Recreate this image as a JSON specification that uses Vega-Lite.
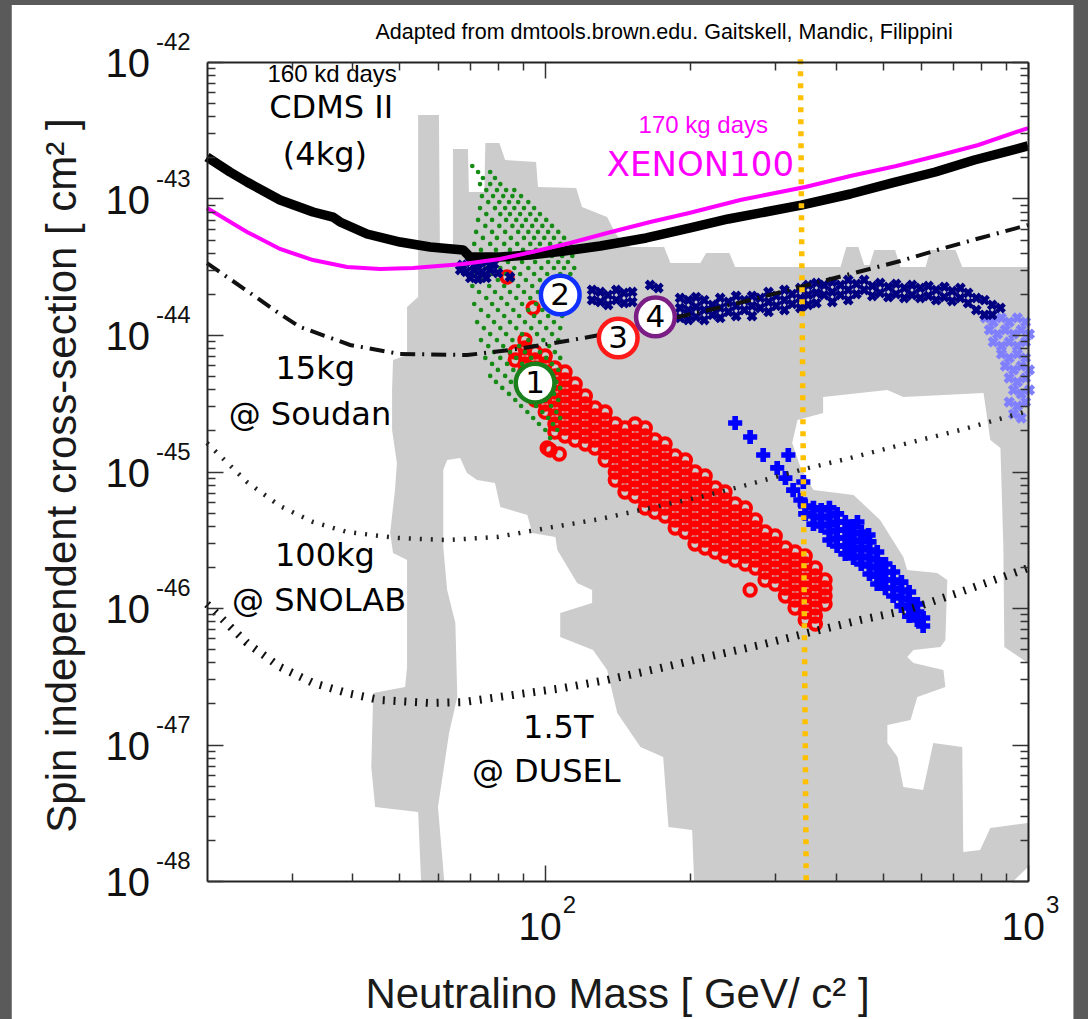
{
"$schema":"https://vega.github.io/schema/vega-lite/v6.json",
"width":821,"height":819,
"autosize":{"type":"none"},
"padding":{"left":207,"top":62,"right":60,"bottom":138},
"background":"#5a5a5a",
"config":{"view":{"stroke":null},"axis":{"grid":false,"domain":false,"labels":false,"ticks":true,"tickColor":"#333333","tickWidth":1.5,"zindex":1,"domainColor":"#222222","domainWidth":2}},
"datasets":{
"frame":[{"x":0.897,"x2":3.094,"y":-41.582,"y2":-49.5}],
"gray":[{"i":1,"x":1.738,"y":-42.388},{"i":2,"x":1.781,"y":-42.388},{"i":3,"x":1.783,"y":-43.341},{"i":4,"x":1.810,"y":-43.341},{"i":5,"x":1.810,"y":-42.637},{"i":6,"x":1.841,"y":-42.637},{"i":7,"x":1.843,"y":-42.952},{"i":8,"x":1.875,"y":-42.952},{"i":9,"x":1.877,"y":-42.593},{"i":10,"x":1.906,"y":-42.593},{"i":11,"x":1.918,"y":-42.718},{"i":12,"x":1.982,"y":-42.733},{"i":13,"x":1.986,"y":-42.916},{"i":14,"x":2.065,"y":-42.923},{"i":15,"x":2.077,"y":-43.062},{"i":16,"x":2.129,"y":-43.136},{"i":17,"x":2.146,"y":-43.253},{"i":18,"x":2.166,"y":-43.341},{"i":19,"x":2.179,"y":-43.355},{"i":20,"x":2.247,"y":-43.355},{"i":21,"x":2.260,"y":-43.473},{"i":22,"x":2.322,"y":-43.473},{"i":23,"x":2.334,"y":-43.399},{"i":24,"x":2.382,"y":-43.399},{"i":25,"x":2.394,"y":-43.502},{"i":26,"x":2.612,"y":-43.502},{"i":27,"x":2.624,"y":-43.355},{"i":28,"x":2.649,"y":-43.355},{"i":29,"x":2.661,"y":-43.487},{"i":30,"x":2.672,"y":-43.487},{"i":31,"x":2.682,"y":-43.377},{"i":32,"x":2.725,"y":-43.377},{"i":33,"x":2.736,"y":-43.502},{"i":34,"x":2.788,"y":-43.502},{"i":35,"x":2.798,"y":-43.377},{"i":36,"x":2.850,"y":-43.377},{"i":37,"x":2.864,"y":-43.502},{"i":38,"x":3.0,"y":-43.502},{"i":39,"x":3.0,"y":-46.403},{"i":40,"x":2.951,"y":-46.286},{"i":41,"x":2.949,"y":-45.553},{"i":42,"x":2.943,"y":-44.828},{"i":43,"x":2.922,"y":-44.769},{"i":44,"x":2.908,"y":-44.425},{"i":45,"x":2.742,"y":-44.454},{"i":46,"x":2.709,"y":-44.403},{"i":47,"x":2.576,"y":-44.454},{"i":48,"x":2.576,"y":-44.571},{"i":49,"x":2.523,"y":-44.623},{"i":50,"x":2.512,"y":-44.791},{"i":51,"x":2.529,"y":-44.967},{"i":52,"x":2.556,"y":-45.136},{"i":53,"x":2.639,"y":-45.172},{"i":54,"x":2.694,"y":-45.355},{"i":55,"x":2.742,"y":-45.626},{"i":56,"x":2.750,"y":-45.722},{"i":57,"x":2.812,"y":-45.744},{"i":58,"x":2.833,"y":-45.795},{"i":59,"x":2.829,"y":-46.234},{"i":60,"x":2.819,"y":-46.286},{"i":61,"x":2.763,"y":-46.308},{"i":62,"x":2.750,"y":-46.359},{"i":63,"x":2.763,"y":-46.403},{"i":64,"x":2.825,"y":-46.454},{"i":65,"x":2.829,"y":-46.579},{"i":66,"x":2.771,"y":-46.652},{"i":67,"x":2.757,"y":-46.821},{"i":68,"x":2.709,"y":-46.857},{"i":69,"x":2.709,"y":-46.989},{"i":70,"x":2.730,"y":-47.092},{"i":71,"x":2.742,"y":-47.311},{"i":72,"x":2.783,"y":-47.333},{"i":73,"x":2.804,"y":-46.989},{"i":74,"x":2.864,"y":-47.018},{"i":75,"x":2.866,"y":-47.788},{"i":76,"x":2.901,"y":-47.773},{"i":77,"x":2.922,"y":-47.612},{"i":78,"x":3.0,"y":-47.575},{"i":79,"x":3.0,"y":-47.897},{"i":80,"x":2.970,"y":-48.0},{"i":81,"x":2.309,"y":-48.0},{"i":82,"x":2.305,"y":-47.626},{"i":83,"x":2.256,"y":-47.604},{"i":84,"x":2.245,"y":-47.092},{"i":85,"x":2.198,"y":-47.018},{"i":86,"x":2.150,"y":-46.769},{"i":87,"x":2.129,"y":-46.454},{"i":88,"x":2.100,"y":-46.308},{"i":89,"x":2.032,"y":-46.212},{"i":90,"x":2.032,"y":-46.037},{"i":91,"x":2.098,"y":-45.963},{"i":92,"x":2.098,"y":-45.868},{"i":93,"x":2.067,"y":-45.817},{"i":94,"x":2.026,"y":-45.575},{"i":95,"x":2.022,"y":-45.480},{"i":96,"x":1.974,"y":-45.451},{"i":97,"x":1.964,"y":-45.319},{"i":98,"x":1.908,"y":-45.260},{"i":99,"x":1.897,"y":-45.084},{"i":100,"x":1.860,"y":-45.062},{"i":101,"x":1.839,"y":-45.011},{"i":102,"x":1.825,"y":-44.901},{"i":103,"x":1.798,"y":-44.916},{"i":104,"x":1.790,"y":-44.989},{"i":105,"x":1.790,"y":-45.553},{"i":106,"x":1.798,"y":-45.868},{"i":107,"x":1.815,"y":-46.110},{"i":108,"x":1.819,"y":-46.652},{"i":109,"x":1.802,"y":-46.916},{"i":110,"x":1.779,"y":-47.458},{"i":111,"x":1.792,"y":-48.0},{"i":112,"x":1.744,"y":-48.0},{"i":113,"x":1.738,"y":-47.495},{"i":114,"x":1.649,"y":-47.458},{"i":115,"x":1.641,"y":-47.165},{"i":116,"x":1.645,"y":-46.623},{"i":117,"x":1.711,"y":-46.579},{"i":118,"x":1.715,"y":-46.432},{"i":119,"x":1.715,"y":-45.648},{"i":120,"x":1.686,"y":-45.597},{"i":121,"x":1.680,"y":-45.451},{"i":122,"x":1.690,"y":-45.136},{"i":123,"x":1.694,"y":-44.938},{"i":124,"x":1.684,"y":-44.696},{"i":125,"x":1.684,"y":-44.403},{"i":126,"x":1.686,"y":-44.183},{"i":127,"x":1.715,"y":-44.147},{"i":128,"x":1.715,"y":-43.795},{"i":129,"x":1.738,"y":-43.722}],
"green":[{"x":1.850,"y":-42.762},{"x":1.862,"y":-42.806},{"x":1.887,"y":-42.806},{"x":1.872,"y":-42.850},{"x":1.897,"y":-42.850},{"x":1.866,"y":-42.894},{"x":1.887,"y":-42.894},{"x":1.908,"y":-42.894},{"x":1.879,"y":-42.938},{"x":1.901,"y":-42.938},{"x":1.920,"y":-42.938},{"x":1.937,"y":-42.938},{"x":1.870,"y":-42.982},{"x":1.893,"y":-42.982},{"x":1.914,"y":-42.982},{"x":1.933,"y":-42.982},{"x":1.951,"y":-42.982},{"x":1.883,"y":-43.026},{"x":1.906,"y":-43.026},{"x":1.926,"y":-43.026},{"x":1.945,"y":-43.026},{"x":1.966,"y":-43.026},{"x":1.866,"y":-43.070},{"x":1.897,"y":-43.070},{"x":1.918,"y":-43.070},{"x":1.937,"y":-43.070},{"x":1.957,"y":-43.070},{"x":1.978,"y":-43.070},{"x":1.879,"y":-43.114},{"x":1.908,"y":-43.114},{"x":1.928,"y":-43.114},{"x":1.949,"y":-43.114},{"x":1.970,"y":-43.114},{"x":1.990,"y":-43.114},{"x":1.862,"y":-43.157},{"x":1.891,"y":-43.157},{"x":1.920,"y":-43.157},{"x":1.941,"y":-43.157},{"x":1.961,"y":-43.157},{"x":1.982,"y":-43.157},{"x":2.003,"y":-43.157},{"x":1.877,"y":-43.201},{"x":1.906,"y":-43.201},{"x":1.933,"y":-43.201},{"x":1.953,"y":-43.201},{"x":1.974,"y":-43.201},{"x":1.995,"y":-43.201},{"x":2.015,"y":-43.201},{"x":1.858,"y":-43.245},{"x":1.891,"y":-43.245},{"x":1.918,"y":-43.245},{"x":1.945,"y":-43.245},{"x":1.966,"y":-43.245},{"x":1.986,"y":-43.245},{"x":2.007,"y":-43.245},{"x":2.028,"y":-43.245},{"x":1.872,"y":-43.289},{"x":1.901,"y":-43.289},{"x":1.930,"y":-43.289},{"x":1.957,"y":-43.289},{"x":1.978,"y":-43.289},{"x":1.999,"y":-43.289},{"x":2.019,"y":-43.289},{"x":2.040,"y":-43.289},{"x":1.854,"y":-43.333},{"x":1.887,"y":-43.333},{"x":1.916,"y":-43.333},{"x":1.943,"y":-43.333},{"x":1.970,"y":-43.333},{"x":1.990,"y":-43.333},{"x":2.011,"y":-43.333},{"x":2.032,"y":-43.333},{"x":2.053,"y":-43.333},{"x":1.868,"y":-43.377},{"x":1.899,"y":-43.377},{"x":1.928,"y":-43.377},{"x":1.955,"y":-43.377},{"x":1.982,"y":-43.377},{"x":2.003,"y":-43.377},{"x":2.024,"y":-43.377},{"x":2.044,"y":-43.377},{"x":1.850,"y":-43.421},{"x":1.883,"y":-43.421},{"x":1.912,"y":-43.421},{"x":1.941,"y":-43.421},{"x":1.968,"y":-43.421},{"x":1.995,"y":-43.421},{"x":2.015,"y":-43.421},{"x":2.036,"y":-43.421},{"x":2.057,"y":-43.421},{"x":1.864,"y":-43.465},{"x":1.895,"y":-43.465},{"x":1.924,"y":-43.465},{"x":1.953,"y":-43.465},{"x":1.980,"y":-43.465},{"x":2.007,"y":-43.465},{"x":2.028,"y":-43.465},{"x":2.048,"y":-43.465},{"x":1.879,"y":-43.509},{"x":1.908,"y":-43.509},{"x":1.937,"y":-43.509},{"x":1.966,"y":-43.509},{"x":1.993,"y":-43.509},{"x":2.019,"y":-43.509},{"x":2.040,"y":-43.509},{"x":2.061,"y":-43.509},{"x":1.856,"y":-43.553},{"x":1.891,"y":-43.553},{"x":1.920,"y":-43.553},{"x":1.949,"y":-43.553},{"x":1.978,"y":-43.553},{"x":2.005,"y":-43.553},{"x":2.032,"y":-43.553},{"x":2.053,"y":-43.553},{"x":1.870,"y":-43.597},{"x":1.903,"y":-43.597},{"x":1.933,"y":-43.597},{"x":1.961,"y":-43.597},{"x":1.990,"y":-43.597},{"x":2.017,"y":-43.597},{"x":2.044,"y":-43.597},{"x":1.850,"y":-43.641},{"x":1.885,"y":-43.641},{"x":1.916,"y":-43.641},{"x":1.945,"y":-43.641},{"x":1.974,"y":-43.641},{"x":2.003,"y":-43.641},{"x":2.030,"y":-43.641},{"x":2.057,"y":-43.641},{"x":1.864,"y":-43.685},{"x":1.897,"y":-43.685},{"x":1.928,"y":-43.685},{"x":1.957,"y":-43.685},{"x":1.986,"y":-43.685},{"x":2.015,"y":-43.685},{"x":2.042,"y":-43.685},{"x":1.879,"y":-43.729},{"x":1.910,"y":-43.729},{"x":1.941,"y":-43.729},{"x":1.970,"y":-43.729},{"x":1.999,"y":-43.729},{"x":2.028,"y":-43.729},{"x":1.854,"y":-43.773},{"x":1.891,"y":-43.773},{"x":1.922,"y":-43.773},{"x":1.953,"y":-43.773},{"x":1.982,"y":-43.773},{"x":2.011,"y":-43.773},{"x":2.038,"y":-43.773},{"x":1.868,"y":-43.817},{"x":1.903,"y":-43.817},{"x":1.935,"y":-43.817},{"x":1.966,"y":-43.817},{"x":1.995,"y":-43.817},{"x":2.024,"y":-43.817},{"x":1.883,"y":-43.861},{"x":1.916,"y":-43.861},{"x":1.947,"y":-43.861},{"x":1.978,"y":-43.861},{"x":2.007,"y":-43.861},{"x":2.036,"y":-43.861},{"x":1.860,"y":-43.905},{"x":1.895,"y":-43.905},{"x":1.928,"y":-43.905},{"x":1.959,"y":-43.905},{"x":1.990,"y":-43.905},{"x":2.019,"y":-43.905},{"x":1.874,"y":-43.949},{"x":1.908,"y":-43.949},{"x":1.941,"y":-43.949},{"x":1.972,"y":-43.949},{"x":2.003,"y":-43.949},{"x":2.032,"y":-43.949},{"x":1.887,"y":-43.993},{"x":1.920,"y":-43.993},{"x":1.953,"y":-43.993},{"x":1.984,"y":-43.993},{"x":2.015,"y":-43.993},{"x":1.868,"y":-44.037},{"x":1.901,"y":-44.037},{"x":1.933,"y":-44.037},{"x":1.966,"y":-44.037},{"x":1.997,"y":-44.037},{"x":2.028,"y":-44.037},{"x":1.883,"y":-44.081},{"x":1.914,"y":-44.081},{"x":1.947,"y":-44.081},{"x":1.978,"y":-44.081},{"x":2.009,"y":-44.081},{"x":1.895,"y":-44.125},{"x":1.928,"y":-44.125},{"x":1.959,"y":-44.125},{"x":1.990,"y":-44.125},{"x":2.021,"y":-44.125},{"x":1.877,"y":-44.168},{"x":1.908,"y":-44.168},{"x":1.941,"y":-44.168},{"x":1.972,"y":-44.168},{"x":2.003,"y":-44.168},{"x":2.032,"y":-44.168},{"x":1.891,"y":-44.212},{"x":1.922,"y":-44.212},{"x":1.953,"y":-44.212},{"x":1.984,"y":-44.212},{"x":2.015,"y":-44.212},{"x":1.903,"y":-44.256},{"x":1.935,"y":-44.256},{"x":1.966,"y":-44.256},{"x":1.997,"y":-44.256},{"x":2.028,"y":-44.256},{"x":1.887,"y":-44.300},{"x":1.918,"y":-44.300},{"x":1.949,"y":-44.300},{"x":1.980,"y":-44.300},{"x":2.011,"y":-44.300},{"x":1.899,"y":-44.344},{"x":1.930,"y":-44.344},{"x":1.961,"y":-44.344},{"x":1.993,"y":-44.344},{"x":2.024,"y":-44.344},{"x":1.912,"y":-44.388},{"x":1.943,"y":-44.388},{"x":1.974,"y":-44.388},{"x":2.005,"y":-44.388},{"x":2.032,"y":-44.388},{"x":1.926,"y":-44.432},{"x":1.957,"y":-44.432},{"x":1.988,"y":-44.432},{"x":2.019,"y":-44.432},{"x":1.939,"y":-44.476},{"x":1.970,"y":-44.476},{"x":2.001,"y":-44.476},{"x":2.028,"y":-44.476},{"x":1.951,"y":-44.520},{"x":1.982,"y":-44.520},{"x":2.013,"y":-44.520},{"x":1.964,"y":-44.564},{"x":1.995,"y":-44.564},{"x":2.024,"y":-44.564},{"x":1.976,"y":-44.608},{"x":2.007,"y":-44.608},{"x":2.032,"y":-44.608},{"x":1.988,"y":-44.652},{"x":2.017,"y":-44.652},{"x":2.001,"y":-44.696},{"x":2.026,"y":-44.696},{"x":2.011,"y":-44.755}],
"red":[{"x":1.922,"y":-43.575},{"x":1.976,"y":-43.802},{"x":2.011,"y":-44.843},{"x":2.005,"y":-44.828},{"x":2.030,"y":-44.872},{"x":2.425,"y":-45.868},
{"x":1.939,"y":-44.125},{"x":1.939,"y":-44.183},
{"x":1.959,"y":-44.037},{"x":1.959,"y":-44.095},{"x":1.959,"y":-44.154},{"x":1.959,"y":-44.213},{"x":1.959,"y":-44.271},{"x":1.959,"y":-44.330},{"x":1.959,"y":-44.388},
{"x":1.980,"y":-44.125},{"x":1.980,"y":-44.183},{"x":1.980,"y":-44.242},{"x":1.980,"y":-44.300},{"x":1.980,"y":-44.359},{"x":1.980,"y":-44.418},{"x":1.980,"y":-44.476},
{"x":2.001,"y":-44.154},{"x":2.001,"y":-44.213},{"x":2.001,"y":-44.271},{"x":2.001,"y":-44.330},{"x":2.001,"y":-44.388},{"x":2.001,"y":-44.447},{"x":2.001,"y":-44.506},{"x":2.001,"y":-44.564},
{"x":2.021,"y":-44.242},{"x":2.021,"y":-44.300},{"x":2.021,"y":-44.359},{"x":2.021,"y":-44.418},{"x":2.021,"y":-44.476},{"x":2.021,"y":-44.535},{"x":2.021,"y":-44.593},{"x":2.021,"y":-44.652},{"x":2.021,"y":-44.711},
{"x":2.042,"y":-44.271},{"x":2.042,"y":-44.330},{"x":2.042,"y":-44.388},{"x":2.042,"y":-44.447},{"x":2.042,"y":-44.506},{"x":2.042,"y":-44.564},{"x":2.042,"y":-44.623},{"x":2.042,"y":-44.681},{"x":2.042,"y":-44.740},
{"x":2.063,"y":-44.359},{"x":2.063,"y":-44.418},{"x":2.063,"y":-44.476},{"x":2.063,"y":-44.535},{"x":2.063,"y":-44.593},{"x":2.063,"y":-44.652},{"x":2.063,"y":-44.711},{"x":2.063,"y":-44.769},
{"x":2.084,"y":-44.447},{"x":2.084,"y":-44.506},{"x":2.084,"y":-44.564},{"x":2.084,"y":-44.623},{"x":2.084,"y":-44.681},{"x":2.084,"y":-44.740},{"x":2.084,"y":-44.799},
{"x":2.104,"y":-44.535},{"x":2.104,"y":-44.593},{"x":2.104,"y":-44.652},{"x":2.104,"y":-44.711},{"x":2.104,"y":-44.769},{"x":2.104,"y":-44.828},
{"x":2.125,"y":-44.564},{"x":2.125,"y":-44.623},{"x":2.125,"y":-44.681},{"x":2.125,"y":-44.740},{"x":2.125,"y":-44.799},{"x":2.125,"y":-44.857},{"x":2.125,"y":-44.916},
{"x":2.146,"y":-44.652},{"x":2.146,"y":-44.711},{"x":2.146,"y":-44.769},{"x":2.146,"y":-44.828},{"x":2.146,"y":-44.887},{"x":2.146,"y":-44.945},{"x":2.146,"y":-45.004},{"x":2.146,"y":-45.062},
{"x":2.166,"y":-44.681},{"x":2.166,"y":-44.740},{"x":2.166,"y":-44.799},{"x":2.166,"y":-44.857},{"x":2.166,"y":-44.916},{"x":2.166,"y":-44.974},{"x":2.166,"y":-45.033},{"x":2.166,"y":-45.092},{"x":2.166,"y":-45.150},
{"x":2.187,"y":-44.652},{"x":2.187,"y":-44.711},{"x":2.187,"y":-44.769},{"x":2.187,"y":-44.828},{"x":2.187,"y":-44.887},{"x":2.187,"y":-44.945},{"x":2.187,"y":-45.004},{"x":2.187,"y":-45.062},{"x":2.187,"y":-45.121},{"x":2.187,"y":-45.180},
{"x":2.208,"y":-44.681},{"x":2.208,"y":-44.740},{"x":2.208,"y":-44.799},{"x":2.208,"y":-44.857},{"x":2.208,"y":-44.916},{"x":2.208,"y":-44.974},{"x":2.208,"y":-45.033},{"x":2.208,"y":-45.092},{"x":2.208,"y":-45.150},{"x":2.208,"y":-45.209},{"x":2.208,"y":-45.267},
{"x":2.228,"y":-44.769},{"x":2.228,"y":-44.828},{"x":2.228,"y":-44.887},{"x":2.228,"y":-44.945},{"x":2.228,"y":-45.004},{"x":2.228,"y":-45.062},{"x":2.228,"y":-45.121},{"x":2.228,"y":-45.180},{"x":2.228,"y":-45.238},{"x":2.228,"y":-45.297},
{"x":2.249,"y":-44.799},{"x":2.249,"y":-44.857},{"x":2.249,"y":-44.916},{"x":2.249,"y":-44.974},{"x":2.249,"y":-45.033},{"x":2.249,"y":-45.092},{"x":2.249,"y":-45.150},{"x":2.249,"y":-45.209},{"x":2.249,"y":-45.267},{"x":2.249,"y":-45.326},
{"x":2.270,"y":-44.887},{"x":2.270,"y":-44.945},{"x":2.270,"y":-45.004},{"x":2.270,"y":-45.062},{"x":2.270,"y":-45.121},{"x":2.270,"y":-45.180},{"x":2.270,"y":-45.238},{"x":2.270,"y":-45.297},{"x":2.270,"y":-45.355},{"x":2.270,"y":-45.414},
{"x":2.291,"y":-44.916},{"x":2.291,"y":-44.974},{"x":2.291,"y":-45.033},{"x":2.291,"y":-45.092},{"x":2.291,"y":-45.150},{"x":2.291,"y":-45.209},{"x":2.291,"y":-45.267},{"x":2.291,"y":-45.326},{"x":2.291,"y":-45.385},{"x":2.291,"y":-45.443},
{"x":2.311,"y":-45.004},{"x":2.311,"y":-45.062},{"x":2.311,"y":-45.121},{"x":2.311,"y":-45.180},{"x":2.311,"y":-45.238},{"x":2.311,"y":-45.297},{"x":2.311,"y":-45.355},{"x":2.311,"y":-45.414},{"x":2.311,"y":-45.473},{"x":2.311,"y":-45.531},
{"x":2.332,"y":-45.033},{"x":2.332,"y":-45.092},{"x":2.332,"y":-45.150},{"x":2.332,"y":-45.209},{"x":2.332,"y":-45.267},{"x":2.332,"y":-45.326},{"x":2.332,"y":-45.385},{"x":2.332,"y":-45.443},{"x":2.332,"y":-45.502},{"x":2.332,"y":-45.560},
{"x":2.353,"y":-45.121},{"x":2.353,"y":-45.180},{"x":2.353,"y":-45.238},{"x":2.353,"y":-45.297},{"x":2.353,"y":-45.355},{"x":2.353,"y":-45.414},{"x":2.353,"y":-45.473},{"x":2.353,"y":-45.531},{"x":2.353,"y":-45.590},
{"x":2.373,"y":-45.150},{"x":2.373,"y":-45.209},{"x":2.373,"y":-45.267},{"x":2.373,"y":-45.326},{"x":2.373,"y":-45.385},{"x":2.373,"y":-45.443},{"x":2.373,"y":-45.502},{"x":2.373,"y":-45.560},{"x":2.373,"y":-45.619},
{"x":2.394,"y":-45.238},{"x":2.394,"y":-45.297},{"x":2.394,"y":-45.355},{"x":2.394,"y":-45.414},{"x":2.394,"y":-45.473},{"x":2.394,"y":-45.531},{"x":2.394,"y":-45.590},{"x":2.394,"y":-45.648},
{"x":2.415,"y":-45.267},{"x":2.415,"y":-45.326},{"x":2.415,"y":-45.385},{"x":2.415,"y":-45.443},{"x":2.415,"y":-45.502},{"x":2.415,"y":-45.560},{"x":2.415,"y":-45.619},{"x":2.415,"y":-45.678},
{"x":2.436,"y":-45.355},{"x":2.436,"y":-45.414},{"x":2.436,"y":-45.473},{"x":2.436,"y":-45.531},{"x":2.436,"y":-45.590},{"x":2.436,"y":-45.648},{"x":2.436,"y":-45.707},
{"x":2.456,"y":-45.443},{"x":2.456,"y":-45.502},{"x":2.456,"y":-45.560},{"x":2.456,"y":-45.619},{"x":2.456,"y":-45.678},{"x":2.456,"y":-45.736},{"x":2.456,"y":-45.795},
{"x":2.477,"y":-45.473},{"x":2.477,"y":-45.531},{"x":2.477,"y":-45.590},{"x":2.477,"y":-45.648},{"x":2.477,"y":-45.707},{"x":2.477,"y":-45.766},{"x":2.477,"y":-45.824},
{"x":2.498,"y":-45.560},{"x":2.498,"y":-45.619},{"x":2.498,"y":-45.678},{"x":2.498,"y":-45.736},{"x":2.498,"y":-45.795},{"x":2.498,"y":-45.854},{"x":2.498,"y":-45.912},
{"x":2.518,"y":-45.590},{"x":2.518,"y":-45.648},{"x":2.518,"y":-45.707},{"x":2.518,"y":-45.766},{"x":2.518,"y":-45.824},{"x":2.518,"y":-45.883},{"x":2.518,"y":-45.941},{"x":2.518,"y":-46.000},
{"x":2.539,"y":-45.619},{"x":2.539,"y":-45.678},{"x":2.539,"y":-45.736},{"x":2.539,"y":-45.795},{"x":2.539,"y":-45.854},{"x":2.539,"y":-45.912},{"x":2.539,"y":-45.971},{"x":2.539,"y":-46.029},{"x":2.539,"y":-46.088},
{"x":2.560,"y":-45.707},{"x":2.560,"y":-45.766},{"x":2.560,"y":-45.824},{"x":2.560,"y":-45.883},{"x":2.560,"y":-45.941},{"x":2.560,"y":-46.000},{"x":2.560,"y":-46.059},{"x":2.560,"y":-46.117},
{"x":2.580,"y":-45.795},{"x":2.580,"y":-45.854},{"x":2.580,"y":-45.912},{"x":2.580,"y":-45.971}],
"blue":[{"x":2.394,"y":-44.645},{"x":2.425,"y":-44.747},{"x":2.452,"y":-44.879},{"x":2.504,"y":-44.879},{"x":2.481,"y":-44.974},{"x":2.498,"y":-45.048},{"x":2.514,"y":-45.136},{"x":2.529,"y":-45.209},{"x":2.535,"y":-45.077},{"x":2.647,"y":-45.370},{"x":2.670,"y":-45.465},
{"x":2.539,"y":-45.253},{"x":2.539,"y":-45.311},
{"x":2.556,"y":-45.267},{"x":2.556,"y":-45.326},{"x":2.556,"y":-45.385},
{"x":2.572,"y":-45.282},{"x":2.572,"y":-45.341},{"x":2.572,"y":-45.399},
{"x":2.589,"y":-45.267},{"x":2.589,"y":-45.326},{"x":2.589,"y":-45.385},{"x":2.589,"y":-45.443},{"x":2.589,"y":-45.502},
{"x":2.605,"y":-45.311},{"x":2.605,"y":-45.370},{"x":2.605,"y":-45.429},{"x":2.605,"y":-45.487},{"x":2.605,"y":-45.546},
{"x":2.622,"y":-45.370},{"x":2.622,"y":-45.429},{"x":2.622,"y":-45.487},{"x":2.622,"y":-45.546},{"x":2.622,"y":-45.604},
{"x":2.639,"y":-45.399},{"x":2.639,"y":-45.458},{"x":2.639,"y":-45.516},{"x":2.639,"y":-45.575},{"x":2.639,"y":-45.634},
{"x":2.655,"y":-45.443},{"x":2.655,"y":-45.502},{"x":2.655,"y":-45.560},{"x":2.655,"y":-45.619},{"x":2.655,"y":-45.678},
{"x":2.672,"y":-45.516},{"x":2.672,"y":-45.575},{"x":2.672,"y":-45.634},{"x":2.672,"y":-45.692},{"x":2.672,"y":-45.751},
{"x":2.688,"y":-45.590},{"x":2.688,"y":-45.648},{"x":2.688,"y":-45.707},{"x":2.688,"y":-45.766},{"x":2.688,"y":-45.824},
{"x":2.705,"y":-45.678},{"x":2.705,"y":-45.736},{"x":2.705,"y":-45.795},{"x":2.705,"y":-45.854},
{"x":2.721,"y":-45.736},{"x":2.721,"y":-45.795},{"x":2.721,"y":-45.854},{"x":2.721,"y":-45.912},
{"x":2.738,"y":-45.810},{"x":2.738,"y":-45.868},{"x":2.738,"y":-45.927},{"x":2.738,"y":-45.985},
{"x":2.754,"y":-45.883},{"x":2.754,"y":-45.941},{"x":2.754,"y":-46.000},{"x":2.754,"y":-46.059},
{"x":2.771,"y":-45.971},{"x":2.771,"y":-46.029},{"x":2.771,"y":-46.088},
{"x":2.783,"y":-46.073},{"x":2.783,"y":-46.132}],
"lblue":[{"x":2.912,"y":-43.875},{"x":2.928,"y":-43.905},{"x":2.945,"y":-43.875},{"x":2.961,"y":-43.905},{"x":2.978,"y":-43.875},{"x":2.995,"y":-43.905},{"x":2.920,"y":-43.963},{"x":2.937,"y":-43.993},{"x":2.953,"y":-43.963},{"x":2.970,"y":-43.993},{"x":2.986,"y":-43.963},{"x":3.003,"y":-43.993},{"x":2.928,"y":-44.051},{"x":2.945,"y":-44.081},{"x":2.961,"y":-44.051},{"x":2.978,"y":-44.081},{"x":2.995,"y":-44.051},{"x":2.945,"y":-44.139},{"x":2.961,"y":-44.168},{"x":2.978,"y":-44.139},{"x":2.995,"y":-44.168},{"x":2.953,"y":-44.227},{"x":2.970,"y":-44.256},{"x":2.986,"y":-44.227},{"x":3.003,"y":-44.256},{"x":2.961,"y":-44.315},{"x":2.978,"y":-44.344},{"x":2.995,"y":-44.315},{"x":2.970,"y":-44.403},{"x":2.986,"y":-44.432},{"x":3.003,"y":-44.403},{"x":2.961,"y":-44.491},{"x":2.978,"y":-44.520},{"x":2.995,"y":-44.491},{"x":2.970,"y":-44.579},{"x":2.986,"y":-44.608}],
"navy":[{"x":1.829,"y":-43.487},{"x":1.846,"y":-43.465},{"x":1.862,"y":-43.480},{"x":1.879,"y":-43.465},{"x":1.895,"y":-43.480},{"x":1.837,"y":-43.538},{"x":1.854,"y":-43.524},{"x":1.870,"y":-43.538},{"x":1.887,"y":-43.524},{"x":1.903,"y":-43.546},{"x":1.846,"y":-43.582},{"x":1.862,"y":-43.590},{"x":1.879,"y":-43.582},{"x":1.825,"y":-43.524},{"x":1.928,"y":-43.575},
{"x":2.098,"y":-43.670},{"x":2.098,"y":-43.744},{"x":2.115,"y":-43.685},{"x":2.115,"y":-43.758},{"x":2.131,"y":-43.707},{"x":2.131,"y":-43.780},{"x":2.148,"y":-43.670},{"x":2.148,"y":-43.744},{"x":2.164,"y":-43.692},{"x":2.164,"y":-43.766},{"x":2.181,"y":-43.685},{"x":2.181,"y":-43.758},{"x":2.218,"y":-43.634},{"x":2.235,"y":-43.656},
{"x":2.280,"y":-43.729},{"x":2.280,"y":-43.802},{"x":2.280,"y":-43.875},{"x":2.297,"y":-43.744},{"x":2.297,"y":-43.817},{"x":2.297,"y":-43.890},{"x":2.313,"y":-43.722},{"x":2.313,"y":-43.795},{"x":2.313,"y":-43.868},{"x":2.330,"y":-43.744},{"x":2.330,"y":-43.817},{"x":2.330,"y":-43.890},{"x":2.347,"y":-43.780},{"x":2.347,"y":-43.853},{"x":2.363,"y":-43.729},{"x":2.363,"y":-43.802},{"x":2.363,"y":-43.875},{"x":2.380,"y":-43.758},{"x":2.380,"y":-43.831},{"x":2.396,"y":-43.714},{"x":2.396,"y":-43.787},{"x":2.396,"y":-43.861},{"x":2.413,"y":-43.744},{"x":2.413,"y":-43.817},{"x":2.429,"y":-43.714},{"x":2.429,"y":-43.787},{"x":2.429,"y":-43.861},{"x":2.446,"y":-43.729},{"x":2.446,"y":-43.802},{"x":2.463,"y":-43.685},{"x":2.463,"y":-43.758},{"x":2.463,"y":-43.831},{"x":2.479,"y":-43.714},{"x":2.479,"y":-43.787},{"x":2.496,"y":-43.670},{"x":2.496,"y":-43.744},{"x":2.496,"y":-43.817},{"x":2.512,"y":-43.700},{"x":2.512,"y":-43.773},{"x":2.529,"y":-43.656},{"x":2.529,"y":-43.729},{"x":2.529,"y":-43.802},{"x":2.545,"y":-43.634},{"x":2.545,"y":-43.707},{"x":2.545,"y":-43.780},{"x":2.562,"y":-43.619},{"x":2.562,"y":-43.692},{"x":2.562,"y":-43.766},{"x":2.578,"y":-43.634},{"x":2.578,"y":-43.707},{"x":2.595,"y":-43.612},{"x":2.595,"y":-43.685},{"x":2.595,"y":-43.758},{"x":2.612,"y":-43.634},{"x":2.612,"y":-43.707},{"x":2.628,"y":-43.597},{"x":2.628,"y":-43.670},{"x":2.628,"y":-43.744},{"x":2.645,"y":-43.626},{"x":2.645,"y":-43.700},{"x":2.661,"y":-43.597},{"x":2.661,"y":-43.670},{"x":2.678,"y":-43.641},{"x":2.678,"y":-43.714},{"x":2.694,"y":-43.619},{"x":2.694,"y":-43.692},{"x":2.711,"y":-43.648},{"x":2.711,"y":-43.722},{"x":2.727,"y":-43.626},{"x":2.727,"y":-43.700},{"x":2.744,"y":-43.656},{"x":2.744,"y":-43.729},{"x":2.760,"y":-43.634},{"x":2.760,"y":-43.707},{"x":2.777,"y":-43.656},{"x":2.777,"y":-43.729},{"x":2.794,"y":-43.641},{"x":2.794,"y":-43.714},{"x":2.810,"y":-43.670},{"x":2.810,"y":-43.744},{"x":2.827,"y":-43.648},{"x":2.827,"y":-43.722},{"x":2.843,"y":-43.678},{"x":2.843,"y":-43.751},{"x":2.860,"y":-43.656},{"x":2.860,"y":-43.729},{"x":2.876,"y":-43.692},{"x":2.876,"y":-43.766},{"x":2.893,"y":-43.729},{"x":2.893,"y":-43.817},{"x":2.910,"y":-43.744},{"x":2.910,"y":-43.853},{"x":2.926,"y":-43.780},{"x":2.926,"y":-43.853},{"x":2.943,"y":-43.802}],
"cdms":[{"x":1.301,"y":-42.696},{"x":1.3486,"y":-42.806},{"x":1.3838,"y":-42.879},{"x":1.4521,"y":-43.011},{"x":1.5205,"y":-43.099},{"x":1.5619,"y":-43.136},{"x":1.5764,"y":-43.172},{"x":1.6323,"y":-43.260},{"x":1.7006,"y":-43.319},{"x":1.7627,"y":-43.355},{"x":1.8310,"y":-43.377},{"x":1.8455,"y":-43.429},{"x":1.9076,"y":-43.429},{"x":1.9697,"y":-43.414},{"x":2.0401,"y":-43.385},{"x":2.1147,"y":-43.348},{"x":2.2099,"y":-43.289},{"x":2.3010,"y":-43.216},{"x":2.3797,"y":-43.150},{"x":2.4563,"y":-43.099},{"x":2.5308,"y":-43.048},{"x":2.6323,"y":-42.967},{"x":2.7192,"y":-42.886},{"x":2.8083,"y":-42.806},{"x":2.8890,"y":-42.718},{"x":3.0,"y":-42.615}],
"xenon":[{"x":1.301,"y":-43.070},{"x":1.3838,"y":-43.245},{"x":1.4521,"y":-43.370},{"x":1.5205,"y":-43.451},{"x":1.5909,"y":-43.502},{"x":1.6592,"y":-43.517},{"x":1.7275,"y":-43.509},{"x":1.8310,"y":-43.480},{"x":1.9076,"y":-43.443},{"x":1.9739,"y":-43.392},{"x":2.0526,"y":-43.326},{"x":2.1292,"y":-43.253},{"x":2.2182,"y":-43.172},{"x":2.2989,"y":-43.106},{"x":2.4045,"y":-43.011},{"x":2.5391,"y":-42.916},{"x":2.6323,"y":-42.835},{"x":2.7275,"y":-42.762},{"x":2.8186,"y":-42.681},{"x":2.8973,"y":-42.608},{"x":3.0,"y":-42.484}],
"soudan":[{"x":1.301,"y":-43.473},{"x":1.3900,"y":-43.692},{"x":1.4521,"y":-43.846},{"x":1.4935,"y":-43.941},{"x":1.5971,"y":-44.073},{"x":1.7006,"y":-44.139},{"x":1.8393,"y":-44.147},{"x":1.9428,"y":-44.103},{"x":2.0319,"y":-44.051},{"x":2.1147,"y":-44.000},{"x":2.2182,"y":-43.912},{"x":2.3217,"y":-43.832},{"x":2.4252,"y":-43.744},{"x":2.5287,"y":-43.648},{"x":2.6323,"y":-43.553},{"x":2.7358,"y":-43.458},{"x":2.8124,"y":-43.377},{"x":2.9014,"y":-43.289},{"x":3.0,"y":-43.194}],
"snolab":[{"x":1.301,"y":-44.791},{"x":1.3838,"y":-45.077},{"x":1.4521,"y":-45.253},{"x":1.5205,"y":-45.370},{"x":1.5909,"y":-45.443},{"x":1.6944,"y":-45.487},{"x":1.7979,"y":-45.502},{"x":1.9014,"y":-45.480},{"x":2.0049,"y":-45.414},{"x":2.1147,"y":-45.348},{"x":2.2182,"y":-45.267},{"x":2.3217,"y":-45.187},{"x":2.4252,"y":-45.092},{"x":2.5287,"y":-44.989},{"x":2.6323,"y":-44.901},{"x":2.7358,"y":-44.806},{"x":2.860,"y":-44.696},{"x":3.0,"y":-44.557}],
"dusel":[{"x":1.301,"y":-45.971},{"x":1.3838,"y":-46.256},{"x":1.4521,"y":-46.432},{"x":1.5205,"y":-46.549},{"x":1.5909,"y":-46.623},{"x":1.6592,"y":-46.674},{"x":1.7627,"y":-46.696},{"x":1.8310,"y":-46.689},{"x":1.9345,"y":-46.637},{"x":2.0381,"y":-46.586},{"x":2.1292,"y":-46.527},{"x":2.2389,"y":-46.440},{"x":2.3362,"y":-46.359},{"x":2.4459,"y":-46.271},{"x":2.5432,"y":-46.183},{"x":2.653,"y":-46.088},{"x":2.7503,"y":-46.015},{"x":2.860,"y":-45.883},{"x":3.0,"y":-45.707}],
"orange":[{"x":2.529,"x2":2.541,"y":-41.98,"y2":-48}],
"circles":[{"x":1.980,"y":-44.352,"id":"1"},{"x":2.032,"y":-43.707,"id":"2"},{"x":2.152,"y":-44.022,"id":"3"},{"x":2.229,"y":-43.868,"id":"4"}],
"ylab":[{"x":1.30103,"y":-42,"e":"-42"},{"x":1.30103,"y":-43,"e":"-43"},{"x":1.30103,"y":-44,"e":"-44"},{"x":1.30103,"y":-45,"e":"-45"},{"x":1.30103,"y":-46,"e":"-46"},{"x":1.30103,"y":-47,"e":"-47"},{"x":1.30103,"y":-48,"e":"-48"}],
"xlab":[{"x":2,"y":-48,"e":"2"},{"x":3,"y":-48,"e":"3"}],
"big":[{"x":1.558,"y":-42.337,"t":"CDMS II"},{"x":1.545,"y":-42.681,"t":"(4kg)"},{"x":1.525,"y":-44.249,"t":"15kg"},{"x":1.514,"y":-44.586,"t":"@ Soudan"},{"x":1.545,"y":-45.619,"t":"100kg"},{"x":1.533,"y":-45.949,"t":"@ SNOLAB"},{"x":2.028,"y":-46.879,"t":"1.5T"},{"x":2.003,"y":-47.201,"t":"@ DUSEL"}],
"small":[{"x":1.560,"y":-42.095,"t":"160 kd days"}],
"magsmall":[{"x":2.328,"y":-42.469,"t":"170 kg days"}],
"magbig":[{"x":2.322,"y":-42.762,"t":"XENON100"}],
"title":[{"x":2.247,"y":-41.787,"t":"Adapted from  dmtools.brown.edu. Gaitskell, Mandic, Filippini"}]
},
"layer":[
{
"encoding":{
"x":{"field":"x","type":"quantitative","scale":{"domain":[1.30103,3],"nice":false,"zero":false},
"axis":{"orient":"bottom","zindex":2,"values":[2,3],"tickSize":-16,"domain":true,"title":"Neutralino Mass [ GeV/ c² ]","titleFont":"Liberation Sans","titleFontSize":42,"titleFontWeight":"normal","titleColor":"#1a1a1a","titleX":410,"titleY":126,"titleAlign":"center","titleBaseline":"alphabetic"}},
"y":{"field":"y","type":"quantitative","scale":{"domain":[-48,-42],"nice":false,"zero":false},
"axis":{"orient":"left","zindex":2,"values":[-48,-47,-46,-45,-44,-43,-42],"tickSize":-16,"domain":true,"title":"Spin independent cross-section [ cm² ]","titleFont":"Liberation Sans","titleFontSize":42,"titleFontWeight":"normal","titleColor":"#1a1a1a","titleX":-132,"titleY":413,"titleAngle":-90,"titleAlign":"center","titleBaseline":"alphabetic"}}
},
"layer":[
{"data":{"name":"frame"},"mark":{"type":"rect","color":"#ffffff","zindex":0},"encoding":{"x2":{"field":"x2"},"y2":{"field":"y2"}}},
{"data":{"name":"gray"},"mark":{"type":"line","filled":true,"color":"#cccccc","fill":"#cccccc","strokeWidth":0,"interpolate":"linear"},"encoding":{"order":{"field":"i","type":"quantitative"}}},
{"data":{"name":"red"},"mark":{"type":"point","shape":"circle","filled":false,"color":"#ff0000","size":130,"strokeWidth":4,"opacity":1}},
{"data":{"name":"green"},"mark":{"type":"point","shape":"circle","filled":true,"color":"#168c16","size":22,"opacity":1}},
{"data":{"name":"blue"},"mark":{"type":"point","shape":"cross","filled":true,"color":"#0000ff","size":200,"opacity":1}},
{"data":{"name":"lblue"},"mark":{"type":"point","shape":"cross","angle":45,"filled":true,"color":"#8080ff","size":130,"opacity":1}},
{"data":{"name":"navy"},"mark":{"type":"point","shape":"cross","angle":45,"filled":true,"color":"#000080","size":120,"opacity":1}},
{"data":{"name":"soudan"},"mark":{"type":"line","color":"#111111","strokeWidth":4,"strokeDash":[15,7,2,7]}},
{"data":{"name":"snolab"},"mark":{"type":"line","color":"#222222","strokeWidth":4.5,"strokeDash":[2,9]}},
{"data":{"name":"dusel"},"mark":{"type":"line","color":"#111111","strokeWidth":8,"strokeDash":[2,8.8]}},
{"data":{"name":"cdms"},"mark":{"type":"line","color":"#000000","strokeWidth":9.5,"strokeJoin":"round"}},
{"data":{"name":"xenon"},"mark":{"type":"line","color":"#ff00ff","strokeWidth":4}},
{"data":{"name":"orange"},"mark":{"type":"rule","color":"#ffc000","strokeWidth":5.5,"strokeDash":[5,7]},"encoding":{"x2":{"field":"x2"},"y2":{"field":"y2"}}},
{"data":{"name":"circles"},"mark":{"type":"point","shape":"circle","filled":true,"fill":"#ffffff","size":1500,"strokeWidth":4.5,"opacity":1},"encoding":{"stroke":{"field":"id","type":"nominal","scale":{"domain":["1","2","3","4"],"range":["#1a801a","#1030ff","#ff1a1a","#7a1e86"]},"legend":null}}},
{"data":{"name":"circles"},"mark":{"type":"text","font":"DejaVu Sans","fontSize":31,"color":"#000000","align":"center","baseline":"middle","dy":1},"encoding":{"text":{"field":"id"}}},
{"data":{"name":"big"},"mark":{"type":"text","font":"DejaVu Sans","fontSize":32,"color":"#000000","align":"center","baseline":"middle"},"encoding":{"text":{"field":"t"}}},
{"data":{"name":"small"},"mark":{"type":"text","font":"Liberation Sans","fontSize":24,"color":"#000000","align":"center","baseline":"middle"},"encoding":{"text":{"field":"t"}}},
{"data":{"name":"magsmall"},"mark":{"type":"text","font":"Liberation Sans","fontSize":24,"color":"#ff00ff","align":"center","baseline":"middle"},"encoding":{"text":{"field":"t"}}},
{"data":{"name":"magbig"},"mark":{"type":"text","font":"DejaVu Sans","fontSize":34,"color":"#ff00ff","align":"center","baseline":"middle"},"encoding":{"text":{"field":"t"}}},
{"data":{"name":"title"},"mark":{"type":"text","font":"Liberation Sans","fontSize":21.5,"color":"#000000","align":"center","baseline":"middle"},"encoding":{"text":{"field":"t"}}},
{"data":{"name":"ylab"},"mark":{"type":"text","font":"Liberation Sans","fontSize":40,"color":"#111111","align":"right","baseline":"alphabetic","dx":-57,"dy":15,"text":"10"}},
{"data":{"name":"ylab"},"mark":{"type":"text","font":"Liberation Sans","fontSize":24,"color":"#111111","align":"left","baseline":"alphabetic","dx":-51,"dy":-12},"encoding":{"text":{"field":"e"}}},
{"data":{"name":"xlab"},"mark":{"type":"text","font":"Liberation Sans","fontSize":39,"color":"#111111","align":"right","baseline":"alphabetic","dx":17,"dy":59,"text":"10"}},
{"data":{"name":"xlab"},"mark":{"type":"text","font":"Liberation Sans","fontSize":24,"color":"#111111","align":"left","baseline":"alphabetic","dx":18,"dy":32},"encoding":{"text":{"field":"e"}}}
]
},
{
"data":{"values":[{"x":2,"y":-45}]},
"mark":{"type":"point","opacity":0},
"encoding":{
"x":{"field":"x","type":"quantitative","scale":{"domain":[1.30103,3],"nice":false,"zero":false},"axis":{"orient":"top","zindex":2,"values":[2,3],"tickSize":-16,"domain":true,"title":null}},
"y":{"field":"y","type":"quantitative","scale":{"domain":[-48,-42],"nice":false,"zero":false},"axis":{"orient":"right","zindex":2,"values":[-48,-47,-46,-45,-44,-43,-42],"tickSize":-16,"domain":true,"title":null}}
}
},
{
"data":{"values":[{"x":2,"y":-45}]},
"mark":{"type":"point","opacity":0},
"encoding":{
"x":{"field":"x","type":"quantitative","scale":{"domain":[1.30103,3],"nice":false,"zero":false},"axis":{"orient":"bottom","zindex":2,"values":[1.47712,1.60206,1.69897,1.77815,1.8451,1.90309,1.95424,2.30103,2.47712,2.60206,2.69897,2.77815,2.8451,2.90309,2.95424],"tickSize":-8,"title":null}},
"y":{"field":"y","type":"quantitative","scale":{"domain":[-48,-42],"nice":false,"zero":false},"axis":{"orient":"left","zindex":2,"values":[-47.69897,-47.52288,-47.39794,-47.30103,-47.22185,-47.1549,-47.09691,-47.04576,-46.69897,-46.52288,-46.39794,-46.30103,-46.22185,-46.1549,-46.09691,-46.04576,-45.69897,-45.52288,-45.39794,-45.30103,-45.22185,-45.1549,-45.09691,-45.04576,-44.69897,-44.52288,-44.39794,-44.30103,-44.22185,-44.1549,-44.09691,-44.04576,-43.69897,-43.52288,-43.39794,-43.30103,-43.22185,-43.1549,-43.09691,-43.04576,-42.69897,-42.52288,-42.39794,-42.30103,-42.22185,-42.1549,-42.09691,-42.04576],"tickSize":-8,"title":null}}
}
},
{
"data":{"values":[{"x":2,"y":-45}]},
"mark":{"type":"point","opacity":0},
"encoding":{
"x":{"field":"x","type":"quantitative","scale":{"domain":[1.30103,3],"nice":false,"zero":false},"axis":{"orient":"top","zindex":2,"values":[1.47712,1.60206,1.69897,1.77815,1.8451,1.90309,1.95424,2.30103,2.47712,2.60206,2.69897,2.77815,2.8451,2.90309,2.95424],"tickSize":-8,"title":null}},
"y":{"field":"y","type":"quantitative","scale":{"domain":[-48,-42],"nice":false,"zero":false},"axis":{"orient":"right","zindex":2,"values":[-47.69897,-47.52288,-47.39794,-47.30103,-47.22185,-47.1549,-47.09691,-47.04576,-46.69897,-46.52288,-46.39794,-46.30103,-46.22185,-46.1549,-46.09691,-46.04576,-45.69897,-45.52288,-45.39794,-45.30103,-45.22185,-45.1549,-45.09691,-45.04576,-44.69897,-44.52288,-44.39794,-44.30103,-44.22185,-44.1549,-44.09691,-44.04576,-43.69897,-43.52288,-43.39794,-43.30103,-43.22185,-43.1549,-43.09691,-43.04576,-42.69897,-42.52288,-42.39794,-42.30103,-42.22185,-42.1549,-42.09691,-42.04576],"tickSize":-8,"title":null}}
}
}
],
"resolve":{"scale":{"x":"independent","y":"independent"}}
}
